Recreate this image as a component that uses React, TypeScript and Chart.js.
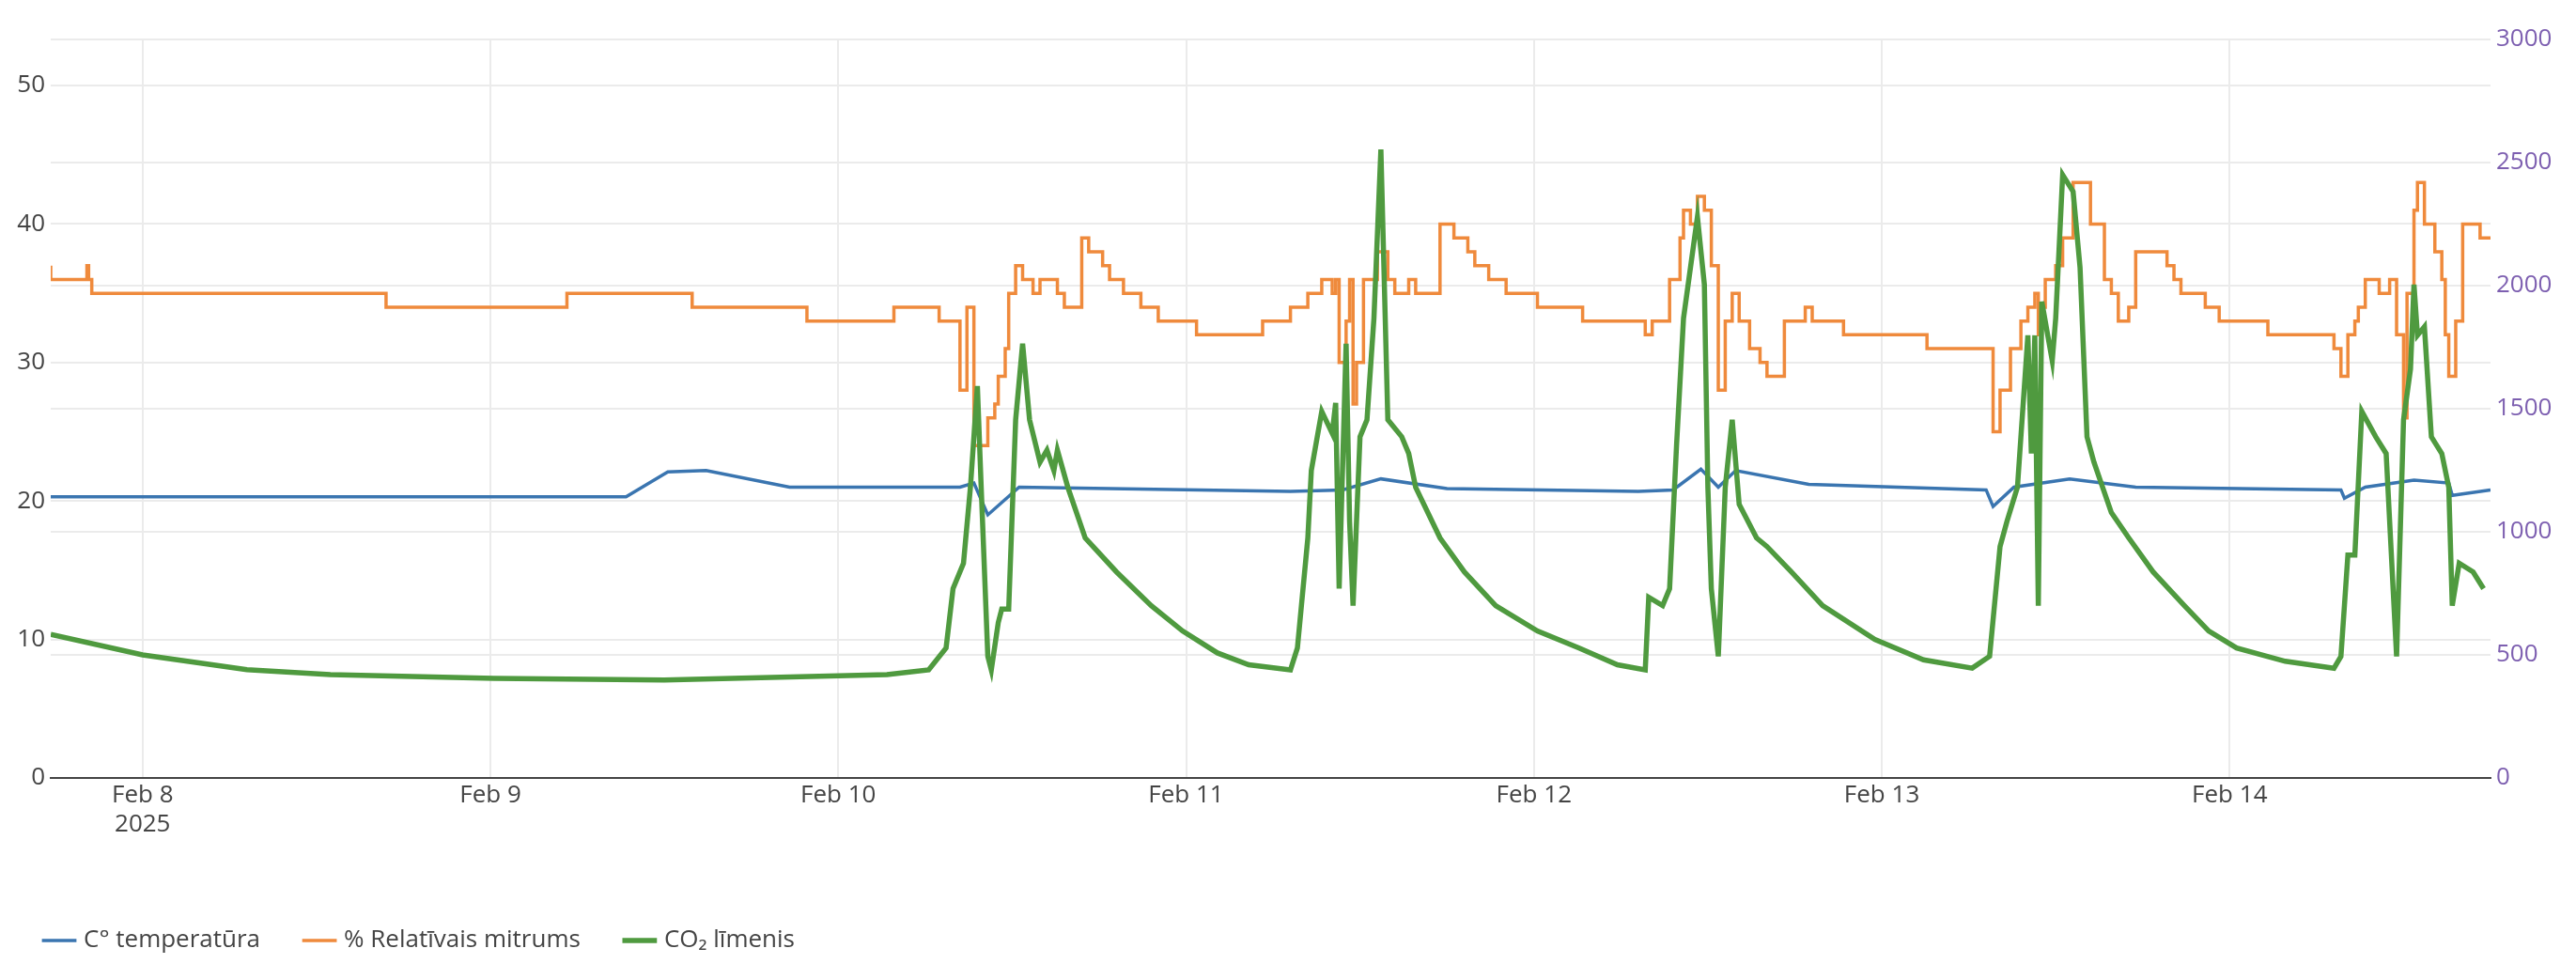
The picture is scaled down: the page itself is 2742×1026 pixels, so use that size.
import React, { useEffect, useRef } from "react";
import { Chart, registerables } from "chart.js";
Chart.register(...registerables);

// x = days since Feb 8 2025 00:00
const dayLabels = ["Feb 8", "Feb 9", "Feb 10", "Feb 11", "Feb 12", "Feb 13", "Feb 14"];

const tempX = [-0.264, 1.39, 1.51, 1.62, 1.86, 2.35, 2.39, 2.43, 2.52, 3.3, 3.45, 3.56, 3.75, 4.3, 4.40, 4.48, 4.53, 4.58, 4.79, 5.30, 5.32, 5.38, 5.54, 5.73, 6.32, 6.33, 6.39, 6.53, 6.63, 6.64, 6.75];
const tempY = [20.3, 20.3, 22.1, 22.2, 21.0, 21.0, 21.3, 19.0, 21.0, 20.7, 20.8, 21.6, 20.9, 20.7, 20.8, 22.3, 21.0, 22.2, 21.2, 20.8, 19.6, 21.0, 21.6, 21.0, 20.8, 20.2, 21.0, 21.5, 21.3, 20.4, 20.8];

const humX = [-0.264, -0.16, -0.155, -0.146, 0.70, 1.22, 1.58, 1.91, 2.16, 2.29, 2.35, 2.37, 2.39, 2.43, 2.45, 2.46, 2.48, 2.49, 2.51, 2.53, 2.56, 2.58, 2.63, 2.65, 2.70, 2.72, 2.76, 2.78, 2.82, 2.87, 2.92, 3.03, 3.22, 3.30, 3.35, 3.39, 3.42, 3.43, 3.44, 3.46, 3.47, 3.48, 3.49, 3.51, 3.55, 3.58, 3.60, 3.64, 3.66, 3.73, 3.77, 3.81, 3.83, 3.87, 3.92, 4.01, 4.14, 4.32, 4.34, 4.39, 4.42, 4.43, 4.45, 4.47, 4.49, 4.51, 4.53, 4.55, 4.57, 4.59, 4.62, 4.65, 4.67, 4.72, 4.78, 4.80, 4.89, 5.13, 5.32, 5.34, 5.37, 5.40, 5.42, 5.44, 5.45, 5.46, 5.47, 5.50, 5.52, 5.55, 5.60, 5.64, 5.66, 5.68, 5.71, 5.73, 5.82, 5.84, 5.86, 5.93, 5.97, 6.11, 6.30, 6.32, 6.34, 6.36, 6.37, 6.39, 6.43, 6.46, 6.48, 6.50, 6.51, 6.53, 6.54, 6.56, 6.59, 6.61, 6.62, 6.63, 6.65, 6.67, 6.72, 6.75];
const humY = [37, 36, 37, 36, 35, 34, 35, 34, 33, 34, 33, 28, 34, 24, 26, 27, 29, 31, 35, 37, 36, 35, 36, 35, 34, 39, 38, 37, 36, 35, 34, 33, 32, 33, 34, 35, 36, 35, 36, 30, 33, 36, 27, 30, 36, 38, 36, 35, 36, 35, 40, 39, 38, 37, 36, 35, 34, 33, 32, 33, 36, 39, 41, 40, 42, 41, 37, 28, 33, 35, 33, 31, 30, 29, 33, 34, 33, 32, 31, 25, 28, 31, 33, 34, 35, 32, 34, 36, 37, 39, 43, 40, 36, 35, 33, 34, 38, 37, 36, 35, 34, 33, 32, 31, 29, 32, 33, 34, 36, 35, 36, 32, 26, 35, 41, 43, 40, 38, 36, 32, 29, 33, 40, 39, 38];

const co2X = [-0.264, 0.0, 0.30, 0.54, 1.01, 1.5, 2.14, 2.26, 2.31, 2.33, 2.36, 2.38, 2.40, 2.41, 2.43, 2.44, 2.46, 2.47, 2.49, 2.51, 2.53, 2.55, 2.58, 2.60, 2.62, 2.63, 2.66, 2.71, 2.80, 2.90, 2.99, 3.09, 3.18, 3.30, 3.32, 3.35, 3.36, 3.39, 3.42, 3.43, 3.44, 3.46, 3.47, 3.48, 3.50, 3.52, 3.54, 3.56, 3.58, 3.62, 3.64, 3.66, 3.73, 3.80, 3.89, 4.01, 4.13, 4.24, 4.32, 4.33, 4.37, 4.39, 4.41, 4.43, 4.47, 4.49, 4.50, 4.51, 4.53, 4.55, 4.57, 4.59, 4.64, 4.67, 4.74, 4.83, 4.98, 5.12, 5.26, 5.31, 5.34, 5.36, 5.39, 5.42, 5.43, 5.44, 5.45, 5.46, 5.49, 5.50, 5.52, 5.55, 5.57, 5.59, 5.61, 5.66, 5.71, 5.78, 5.87, 5.94, 6.02, 6.16, 6.30, 6.32, 6.34, 6.36, 6.38, 6.42, 6.45, 6.48, 6.50, 6.52, 6.53, 6.54, 6.56, 6.58, 6.61, 6.63, 6.64, 6.66, 6.70, 6.73];
const co2Y = [583, 500, 440, 420, 405, 398, 420, 439, 528, 769, 872, 1181, 1592, 1215, 494, 439, 631, 686, 686, 1455, 1764, 1455, 1283, 1332, 1249, 1332, 1181, 975, 837, 700, 597, 508, 460, 439, 528, 975, 1249, 1489, 1400, 1524, 769, 1764, 1043, 700, 1386, 1455, 1867, 2553, 1455, 1386, 1318, 1181, 975, 837, 700, 597, 528, 460, 439, 734, 700, 769, 1352, 1867, 2279, 2004, 1181, 769, 494, 1181, 1455, 1112, 975, 940, 837, 700, 563, 480, 446, 494, 940, 1043, 1181, 1798, 1318, 1798, 700, 1935, 1695, 1867, 2450, 2382, 2073, 1386, 1283, 1078, 975, 837, 700, 597, 528, 474, 446, 494, 906, 906, 1489, 1386, 1318, 494, 1455, 1661, 2004, 1798, 1833, 1386, 1318, 1181, 700, 872, 837, 769];

const pts = (xs: number[], ys: number[]) => xs.map((x, i) => ({ x, y: ys[i] }));

export default function App() {
  const ref = useRef<HTMLCanvasElement>(null);
  useEffect(() => {
    const font = { family: "'Open Sans', 'Noto Sans', sans-serif", size: 26 };
    const chart = new Chart(ref.current!, {
      type: "line",
      data: {
        datasets: [
          { label: "C° temperatūra", data: pts(tempX, tempY), borderColor: "#3a75b0", backgroundColor: "#3a75b0", borderWidth: 3.5, pointRadius: 0, yAxisID: "y", order: 2 },
          { label: "% Relatīvais mitrums", data: pts(humX, humY), borderColor: "#ef8a3c", backgroundColor: "#ef8a3c", borderWidth: 3.5, pointRadius: 0, stepped: "after", yAxisID: "y", order: 3 },
          { label: "CO₂ līmenis", data: pts(co2X, co2Y), borderColor: "#4f9a3f", backgroundColor: "#4f9a3f", borderWidth: 5.5, pointRadius: 0, yAxisID: "y1", order: 1 },
        ],
      },
      options: {
        animation: false,
        responsive: false,
        layout: { padding: { top: 42, bottom: 2, left: 0, right: 0 } },
        plugins: {
          tooltip: { enabled: false },
          legend: {
            position: "bottom",
            align: "start",
            labels: {
              font, color: "#444", usePointStyle: true, pointStyle: "line", boxWidth: 60, padding: 50,
              sort: (a: any, b: any) => a.datasetIndex - b.datasetIndex,
            },
          },
        },
        scales: {
          x: {
            type: "linear",
            min: -0.264,
            max: 6.75,
            afterBuildTicks: (ax: any) => { ax.ticks = dayLabels.map((_, i) => ({ value: i })); },
            ticks: {
              font, color: "#444", maxRotation: 0, autoSkip: false,
              callback: (v: any) => { const i = Math.round(Number(v)); return i === 0 ? [dayLabels[0], "2025"] : dayLabels[i]; },
            },
            grid: { color: "#ebebeb", lineWidth: 2, drawTicks: false },
            border: { color: "#444", width: 2 },
            afterFit: (ax: any) => { ax.height = 110; },
          },
          y: {
            position: "left", min: 0, max: 53.33,
            afterBuildTicks: (ax: any) => { ax.ticks = [0, 10, 20, 30, 40, 50].map((value) => ({ value })); },
            ticks: { font, color: "#444", padding: 6 },
            grid: { color: "#ebebeb", lineWidth: 2, drawTicks: false },
            border: { display: false },
            afterFit: (ax: any) => { ax.width = 54; },
          },
          y1: {
            position: "right", min: 0, max: 3000,
            afterBuildTicks: (ax: any) => { ax.ticks = [0, 500, 1000, 1500, 2000, 2500, 3000].map((value) => ({ value })); },
            ticks: { font, color: "#7d5fb0", padding: 6, callback: (v: any) => String(v) },
            grid: { color: "#ebebeb", lineWidth: 2, drawTicks: false },
            border: { display: false },
            afterFit: (ax: any) => { ax.width = 91; },
          },
        },
      },
    });
    return () => chart.destroy();
  }, []);
  return (
    <div style={{ position: "fixed", left: 0, top: 0, background: "#fff" }}>
      <canvas ref={ref} width={2742} height={1026} style={{ width: 2742, height: 1026, display: "block" }} />
    </div>
  );
}
